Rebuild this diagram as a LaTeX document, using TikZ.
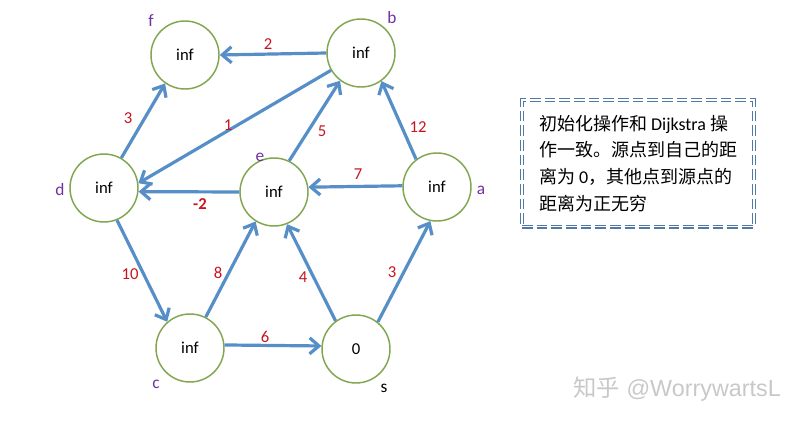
\documentclass[tikz,border=0pt]{standalone}
\usepackage{fontspec}
\setmainfont{Carlito}
\newfontfamily\cjk{Noto Sans CJK SC}
\newfontfamily\wmfont{Liberation Sans}
\usetikzlibrary{arrows.meta}
\definecolor{nodegreen}{RGB}{130,165,80}
\definecolor{edgeblue}{RGB}{86,143,200}
\definecolor{lblred}{RGB}{200,20,30}
\definecolor{lblpurple}{RGB}{112,48,160}
\definecolor{boxblue}{RGB}{80,122,165}
\definecolor{wmgray}{RGB}{200,200,200}
\begin{document}
\begin{tikzpicture}[x=0.75pt,y=-0.75pt,
  vert/.style={circle,draw=nodegreen,line width=1.1pt,fill=white,minimum size=51pt,inner sep=0pt,font=\fontsize{12.5}{14}\selectfont},
  edge/.style={draw=edgeblue,line width=2.4pt,-{Straight Barb[length=7pt,width=12pt]}},
  wt/.style={text=lblred,font=\fontsize{12.5}{14}\selectfont,inner sep=0pt},
  nm/.style={text=lblpurple,font=\fontsize{13}{15}\selectfont,inner sep=0pt},
  infobox/.style={draw=boxblue,double=white,double distance=1.3pt,line width=0.9pt,dash pattern=on 8pt off 3pt,minimum width=174pt,minimum height=95pt,align=left,inner sep=0pt,font=\fontsize{13.5}{20}\selectfont}]
\useasboundingbox (0,0) rectangle (800,424);

% vertices
\node[vert] (f) at (185,55) {inf};
\node[vert] (b) at (361,53) {inf};
\node[vert] (d) at (104,188) {inf};
\node[vert] (e) at (274,192) {inf};
\node[vert] (a) at (437,187) {inf};
\node[vert] (c) at (190,348) {inf};
\node[vert] (s) at (356,349) {0};

% vertex names
\node[nm] (nf) at (151,21) {f};
\node[nm] (nb) at (392,18) {b};
\node[nm] (nd) at (60,190) {d};
\node[nm] (ne) at (260,157) {e};
\node[nm] (na) at (481,190) {a};
\node[nm] (nc) at (156,384) {c};
\node[nm,text=black] (ns) at (384,388) {s};

% edges
\draw[edge] (b.180) -- (f.0);
\draw[edge] (d.60) -- (f.235);
\draw[edge] (b.210) -- (d.8);
\draw[edge] (e.64) -- (b.233);
\draw[edge] (a.127) -- (b.306);
\draw[edge] (a.178) -- (e.8);
\draw[edge] (e.180) -- (d.354);
\draw[edge] (d.292) -- (c.131);
\draw[edge] (c.63) -- (e.238);
\draw[edge] (s.126) -- (e.292);
\draw[edge] (s.51) -- (a.259);
\draw[edge] (c.5) -- (s.175);

% weights
\node[wt] (w1) at (268,44) {2};
\node[wt] (w2) at (128,118) {3};
\node[wt] (w3) at (228,125) {1};
\node[wt] (w4) at (322,131) {5};
\node[wt] (w5) at (418,127) {12};
\node[wt] (w6) at (358,174) {7};
\node[wt,font=\fontsize{12.5}{14}\selectfont\bfseries] (w7) at (200,204) {-2};
\node[wt] (w8) at (130,274) {10};
\node[wt] (w9) at (218,273) {8};
\node[wt] (w10) at (303,277) {4};
\node[wt] (w11) at (392,272) {3};
\node[wt] (w12) at (265,337) {6};

% info box
\node[infobox] (info) at (638,163.3) {{\cjk 初始化操作和} Dijkstra {\cjk 操}\\{\cjk 作一致。源点到自己的距}\\{\cjk 离为} 0{\cjk ，其他点到源点的}\\{\cjk 距离为正无穷}};

% watermark
\node[anchor=east,text=wmgray,inner sep=0pt,font=\wmfont\fontsize{17.5}{20}\selectfont] (wm) at (781,389) {{\cjk 知乎} @WorrywartsL};
\end{tikzpicture}
\end{document}
